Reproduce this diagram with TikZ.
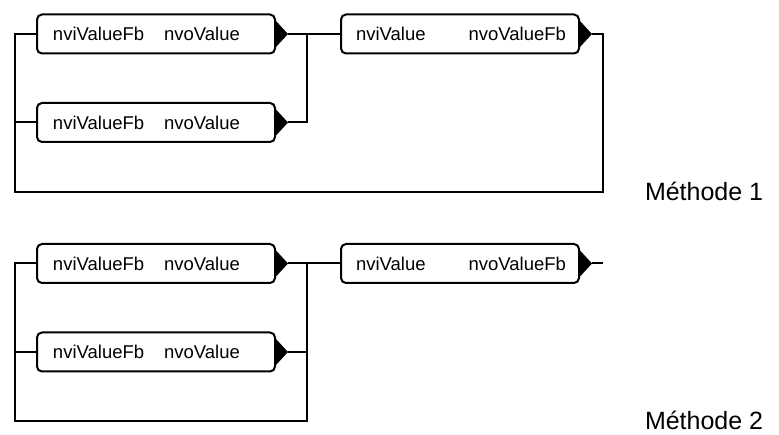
\documentclass[tikz,border=0pt]{standalone}
\usepackage{fontspec}
\setmainfont{Liberation Sans}
\usetikzlibrary{calc}
\begin{document}
\begin{tikzpicture}[x=1pt,y=-1pt,line width=2pt,
  fb/.style={draw, rounded corners=5pt, minimum width=238pt, minimum height=39pt,
    inner sep=0pt, anchor=north west, font=\fontsize{18.5}{21}\selectfont},
  lbl/.style={anchor=base west, inner sep=0pt, font=\fontsize{25}{29}\selectfont}]
\useasboundingbox (0,0) rectangle (779,435);
% Method 1
\node[fb] (a1) at (36,13.5) {\makebox[238pt][l]{\hspace{16pt}nviValueFb\hspace{20pt}nvoValue}};
\node[fb] (a2) at (36,102) {\makebox[238pt][l]{\hspace{16pt}nviValueFb\hspace{20pt}nvoValue}};
\node[fb] (b1) at (340,13.5) {\makebox[238pt][l]{\hspace{15pt}nviValue\hfill nvoValueFb\hspace{13pt}}};
% Method 2
\node[fb] (a3) at (36,243) {\makebox[238pt][l]{\hspace{16pt}nviValueFb\hspace{20pt}nvoValue}};
\node[fb] (a4) at (36,331.5) {\makebox[238pt][l]{\hspace{16pt}nviValueFb\hspace{20pt}nvoValue}};
\node[fb] (b2) at (340,243) {\makebox[238pt][l]{\hspace{15pt}nviValue\hfill nvoValueFb\hspace{13pt}}};
% output triangles
\foreach \n in {a1,a2,b1,a3,a4,b2}{
  \coordinate (\n t) at ($(\n.east)+(12,0)$);
  \fill ($(\n.east)+(0,-13)$) -- (\n t) -- ($(\n.east)+(0,13)$) -- cycle;
}
% Method 1 wires
\coordinate (j1) at (307,0);
\coordinate (r1) at (603,192.5);
\coordinate (l1) at (14.5,192.5);
\draw (a1t) -- (b1.west);
\draw (a2t) -| (j1 |- a1t);
\draw (b1t) -| (r1) -- (l1) |- (a1.west);
\draw (l1 |- a2.west) -- (a2.west);
% Method 2 wires
\coordinate (r2) at (307,420.5);
\coordinate (l2) at (14.5,420.5);
\coordinate (e2) at (603,0);
\draw (a3t) -- (b2.west);
\draw (a3.west) -| (l2) -- (r2) -- (r2 |- a3t);
\draw (a4t) -- (r2 |- a4t);
\draw (l2 |- a4.west) -- (a4.west);
\draw (b2t) -- (e2 |- b2t);
% labels
\node[lbl] (m1) at (644,201) {Méthode 1};
\node[lbl] (m2) at (644,429.5) {Méthode 2};
\end{tikzpicture}
\end{document}
